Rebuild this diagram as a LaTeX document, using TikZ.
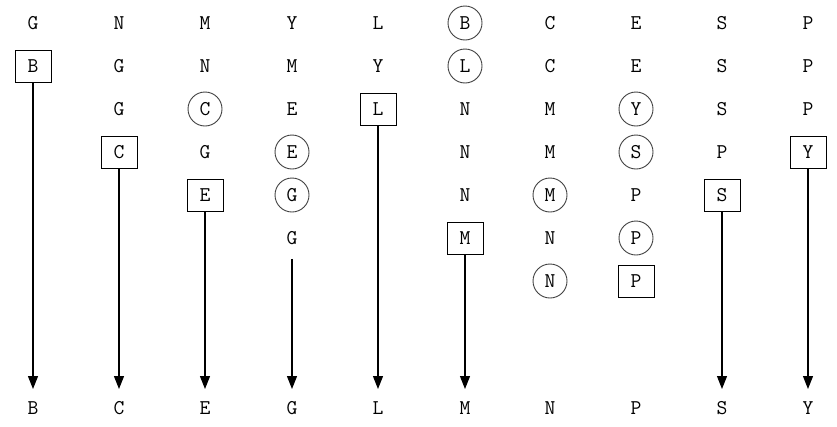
\documentclass[tikz,border=0pt]{standalone}
\usetikzlibrary{arrows.meta}
\begin{document}
\begin{tikzpicture}[x=1pt,y=-1pt,
  letter/.style={font=\ttfamily\fontsize{21}{21}\selectfont, inner sep=0pt, anchor=center},
  boxed/.style={letter, draw, line width=0.9pt, minimum width=36pt, minimum height=32pt},
  ringed/.style={letter, draw=black!75, line width=0.9pt, circle, minimum size=34pt},
  flow/.style={line width=1.1pt, -{Triangle[width=10pt,length=13pt]}}]
\useasboundingbox (0,0) rectangle (837,426);
% column x positions
\def\cx#1{\ifcase#1\or33\or119\or205\or292\or378\or465\or550\or636\or722\or808\fi}
% plain letters: col/row/text
\foreach \c/\r/\t in {1/1/G,
  2/1/N,2/2/G,2/3/G,
  3/1/M,3/2/N,3/4/G,
  4/1/Y,4/2/M,4/3/E,4/6/G,
  5/1/L,5/2/Y,
  6/3/N,6/4/N,6/5/N,
  7/1/C,7/2/C,7/3/M,7/4/M,7/6/N,
  8/1/E,8/2/E,8/5/P,
  9/1/S,9/2/S,9/3/S,9/4/P,
  10/1/P,10/2/P,10/3/P}
  {\node[letter] (n\c-\r) at ({\cx{\c}},{23+43*(\r-1)}) {\t};}
% boxed letters
\foreach \c/\r/\t in {1/2/B,2/4/C,3/5/E,5/3/L,6/6/M,8/7/P,9/5/S,10/4/Y}
  {\node[boxed] (n\c-\r) at ({\cx{\c}},{23+43*(\r-1)}) {\t};}
% ringed letters
\foreach \c/\r/\t in {3/3/C,4/4/E,4/5/G,6/1/B,6/2/L,7/5/M,7/7/N,8/3/Y,8/4/S,8/6/P}
  {\node[ringed] (n\c-\r) at ({\cx{\c}},{23+43*(\r-1)}) {\t};}
% bottom row
\foreach \c/\t in {1/B,2/C,3/E,4/G,5/L,6/M,7/N,8/P,9/S,10/Y}
  {\node[letter] (b\c) at ({\cx{\c}},408) {\t};}
% arrow tips
\foreach \c in {1,2,3,4,5,6,9,10}
  {\coordinate (t\c) at ({\cx{\c}},389);}
\draw[flow] (n1-2.south) -- (t1);
\draw[flow] (n2-4.south) -- (t2);
\draw[flow] (n3-5.south) -- (t3);
\draw[flow] ([yshift=-14pt]n4-6.south) -- (t4);
\draw[flow] (n5-3.south) -- (t5);
\draw[flow] (n6-6.south) -- (t6);
\draw[flow] (n9-5.south) -- (t9);
\draw[flow] (n10-4.south) -- (t10);
\end{tikzpicture}
\end{document}
